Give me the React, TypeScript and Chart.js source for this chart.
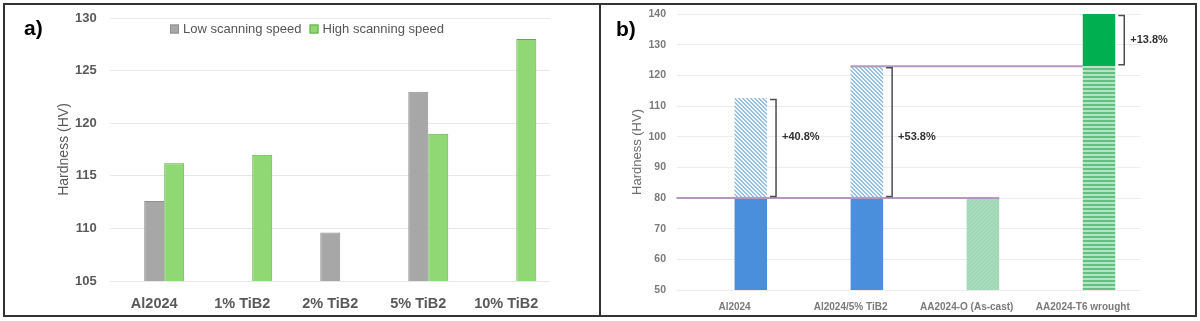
import React, { useEffect, useRef } from "react";
import { Chart, registerables } from "chart.js";

Chart.register(...registerables);

// ---------- Panel a data ----------
const compositions = ["Al2024", "1% TiB2", "2% TiB2", "5% TiB2", "10% TiB2"];
const lowSpeedHardness: (number | null)[] = [112.6, null, 109.6, 123.0, null];
const highSpeedHardness: (number | null)[] = [116.2, 117.0, null, 119.0, 128.0];
const seriesNamesA = ["Low scanning speed", "High scanning speed"];
const yTicksA = [105, 110, 115, 120, 125, 130];

// ---------- Panel b data ----------
const materials = ["Al2024", "Al2024/5% TiB2", "AA2024-O (As-cast)", "AA2024-T6 wrought"];
const baseHardness = [80, 80, 80, 123];
const peakHardness: (number | null)[] = [112.6, 123.0, null, 140.0];
const gainLabels: (string | null)[] = ["+40.8%", "+53.8%", null, "+13.8%"];
const gainLabelAt: (number | null)[] = [100, 100, null, 131.5];
const referenceLevels = [80, 123];
const yTicksB = [50, 60, 70, 80, 90, 100, 110, 120, 130, 140];

const yTitle = "Hardness (HV)";
const FONT = '"Liberation Sans", Arial, sans-serif';

function makePattern(size: number, fn: (x: number, y: number) => string): CanvasPattern | string {
  const c = document.createElement("canvas");
  c.width = size;
  c.height = size;
  const g = c.getContext("2d");
  if (!g) return "#cccccc";
  for (let y = 0; y < size; y++) {
    for (let x = 0; x < size; x++) {
      g.fillStyle = fn(x, y);
      g.fillRect(x, y, 1, 1);
    }
  }
  return g.createPattern(c, "repeat") || "#cccccc";
}

const legendPluginA = {
  id: "legendA",
  afterDraw(chart: any) {
    const ctx = chart.ctx as CanvasRenderingContext2D;
    ctx.save();
    ctx.font = `bold 21px ${FONT}`;
    ctx.fillStyle = "#000";
    ctx.textBaseline = "alphabetic";
    ctx.textAlign = "left";
    ctx.fillText("a)", 24, 35);
    ctx.font = `13px ${FONT}`;
    ctx.textBaseline = "middle";
    let x = 170;
    const yc = 29;
    [1, 2].forEach((di) => {
      const ds = chart.data.datasets[di];
      ctx.fillStyle = ds.backgroundColor;
      ctx.fillRect(x, yc - 4.5, 9, 9);
      ctx.strokeStyle = ds.borderColor;
      ctx.lineWidth = 1;
      ctx.strokeRect(x + 0.5, yc - 4, 8, 8);
      ctx.fillStyle = "#555555";
      ctx.fillText(ds.label, x + 13, yc);
      x += 13 + ctx.measureText(ds.label).width + 8;
    });
    ctx.restore();
  },
};

const annotationPluginB = {
  id: "annotB",
  afterDatasetsDraw(chart: any) {
    const ctx = chart.ctx as CanvasRenderingContext2D;
    const area = chart.chartArea;
    const y = chart.scales.y;
    const bars = chart.getDatasetMeta(1).data as any[];
    const edge = (i: number, side: number) => bars[i].x + (side * bars[i].width) / 2;
    ctx.save();
    ctx.strokeStyle = "#b497c0";
    ctx.lineWidth = 2;
    let yy = y.getPixelForValue(referenceLevels[0]);
    ctx.beginPath();
    ctx.moveTo(area.left, yy);
    ctx.lineTo(edge(2, 1), yy);
    ctx.stroke();
    yy = y.getPixelForValue(referenceLevels[1]);
    ctx.beginPath();
    ctx.moveTo(edge(1, -1), yy);
    ctx.lineTo(edge(3, -1), yy);
    ctx.stroke();

    ctx.strokeStyle = "#4d4d4d";
    ctx.lineWidth = 1.5;
    ctx.font = `bold 11px ${FONT}`;
    ctx.fillStyle = "#333333";
    ctx.textBaseline = "middle";
    ctx.textAlign = "left";
    materials.forEach((_, i) => {
      const peak = peakHardness[i];
      const lbl = gainLabels[i];
      if (peak == null || !lbl) return;
      const x = edge(i, 1) + 9;
      const top = y.getPixelForValue(peak) + 1.5;
      const bot = y.getPixelForValue(baseHardness[i]) - 1.5;
      ctx.beginPath();
      ctx.moveTo(x - 6, top);
      ctx.lineTo(x, top);
      ctx.lineTo(x, bot);
      ctx.lineTo(x - 6, bot);
      ctx.stroke();
      ctx.fillText(lbl, x + 6, y.getPixelForValue(gainLabelAt[i] as number));
    });

    ctx.font = `bold 21px ${FONT}`;
    ctx.fillStyle = "#000";
    ctx.textBaseline = "alphabetic";
    ctx.fillText("b)", 16, 35.5);
    ctx.restore();
  },
};

export default function App() {
  const refA = useRef<HTMLCanvasElement>(null);
  const refB = useRef<HTMLCanvasElement>(null);

  useEffect(() => {
    if (!refA.current || !refB.current) return;

    const chartA = new Chart(refA.current, {
      type: "bar",
      data: {
        labels: compositions,
        datasets: [
          { label: "", data: compositions.map(() => null), backgroundColor: "rgba(0,0,0,0)" },
          {
            label: seriesNamesA[0],
            data: lowSpeedHardness,
            backgroundColor: "#a7a7a7",
            borderColor: "#909090",
            borderWidth: 1,
          },
          {
            label: seriesNamesA[1],
            data: highSpeedHardness,
            backgroundColor: "#8fd874",
            borderColor: "#5eaf45",
            borderWidth: 1,
          },
        ],
      },
      options: {
        responsive: false,
        animation: false,
        layout: { padding: { left: 55.6, right: 49.7, top: 18, bottom: 0 } },
        datasets: { bar: { categoryPercentage: 0.682, barPercentage: 1 } },
        plugins: { legend: { display: false }, tooltip: { enabled: false } },
        scales: {
          x: {
            grid: { display: false },
            border: { display: false },
            ticks: {
              color: "#595959",
              font: { family: FONT, size: 14.5, weight: "bold" },
              padding: 6,
              maxRotation: 0,
              autoSkip: false,
            },
            afterFit: (s: any) => {
              s.height = 40;
            },
          },
          y: {
            min: yTicksA[0],
            max: yTicksA[yTicksA.length - 1],
            afterBuildTicks: (s: any) => {
              s.ticks = yTicksA.map((v) => ({ value: v }));
            },
            grid: { color: "#e8e8e8", drawTicks: false },
            border: { display: false },
            ticks: {
              color: "#595959",
              font: { family: FONT, size: 13, weight: "bold" },
              padding: 13.5,
            },
            title: {
              display: true,
              text: yTitle,
              color: "#595959",
              font: { family: FONT, size: 14 },
              padding: 0,
            },
            afterFit: (s: any) => {
              s.width = 54.6;
              s.paddingTop = 0;
              s.paddingBottom = 0;
            },
          },
        },
      } as any,
      plugins: [legendPluginA],
    });

    const blue = "#4a8fdb";
    const hatch = makePattern(4, (x, y) => ((((x - y) % 4) + 4) % 4 < 2 ? "#98c1e0" : "#f2f7fb"));
    const castGreen = makePattern(4, (x, y) => ((x + y) % 4 === 0 ? "#9ad5b2" : "#a6dcbc"));
    const stripes = makePattern(4, (_x, y) => (y % 4 < 2 ? "#62c083" : "#b3e4c6"));
    const solidGreen = "#00b050";

    const chartB = new Chart(refB.current, {
      type: "bar",
      data: {
        labels: materials,
        datasets: [
          { label: "", data: materials.map(() => null), stack: "spacer", backgroundColor: "rgba(0,0,0,0)" },
          {
            label: "base",
            data: baseHardness,
            stack: "main",
            backgroundColor: [blue, blue, castGreen, stripes],
          },
          {
            label: "gain",
            data: peakHardness.map((p, i) => (p == null ? null : p - baseHardness[i])),
            stack: "main",
            backgroundColor: [hatch, hatch, "rgba(0,0,0,0)", solidGreen],
          },
        ],
      },
      options: {
        responsive: false,
        animation: false,
        layout: { padding: { left: 29.7, right: 59.2, top: 14, bottom: 0 } },
        datasets: { bar: { categoryPercentage: 0.56, barPercentage: 1 } },
        plugins: { legend: { display: false }, tooltip: { enabled: false } },
        scales: {
          x: {
            stacked: true,
            grid: { display: false },
            border: { display: false },
            ticks: {
              color: "#7a7a7a",
              font: { family: FONT, size: 10, weight: "bold" },
              padding: 3,
              maxRotation: 0,
              autoSkip: false,
            },
            afterFit: (s: any) => {
              s.height = 31;
            },
          },
          y: {
            stacked: true,
            min: yTicksB[0],
            max: yTicksB[yTicksB.length - 1],
            afterBuildTicks: (s: any) => {
              s.ticks = yTicksB.map((v) => ({ value: v }));
            },
            grid: { color: "#ececec", drawTicks: false },
            border: { display: false },
            ticks: {
              color: "#7a7a7a",
              font: { family: FONT, size: 10.5, weight: "bold" },
              padding: 10.5,
            },
            title: {
              display: true,
              text: yTitle,
              color: "#6b6b6b",
              font: { family: FONT, size: 13 },
              padding: 0,
            },
            afterFit: (s: any) => {
              s.width = 46.8;
              s.paddingTop = 0;
              s.paddingBottom = 0;
            },
          },
        },
      } as any,
      plugins: [annotationPluginB],
    });

    return () => {
      chartA.destroy();
      chartB.destroy();
    };
  }, []);

  return (
    <div style={{ position: "absolute", left: 0, top: 0, width: 1200, height: 321, background: "#fff", overflow: "hidden" }}>
      <canvas ref={refA} width={600} height={321} style={{ position: "absolute", left: 0, top: 0, width: 600, height: 321 }} />
      <canvas ref={refB} width={600} height={321} style={{ position: "absolute", left: 600, top: 0, width: 600, height: 321 }} />
      <div
        style={{
          position: "absolute",
          left: 3,
          top: 3,
          width: 1194,
          height: 314,
          border: "2px solid #333",
          boxSizing: "border-box",
          pointerEvents: "none",
        }}
      />
      <div style={{ position: "absolute", left: 599, top: 3, width: 2, height: 314, background: "#333" }} />
    </div>
  );
}
